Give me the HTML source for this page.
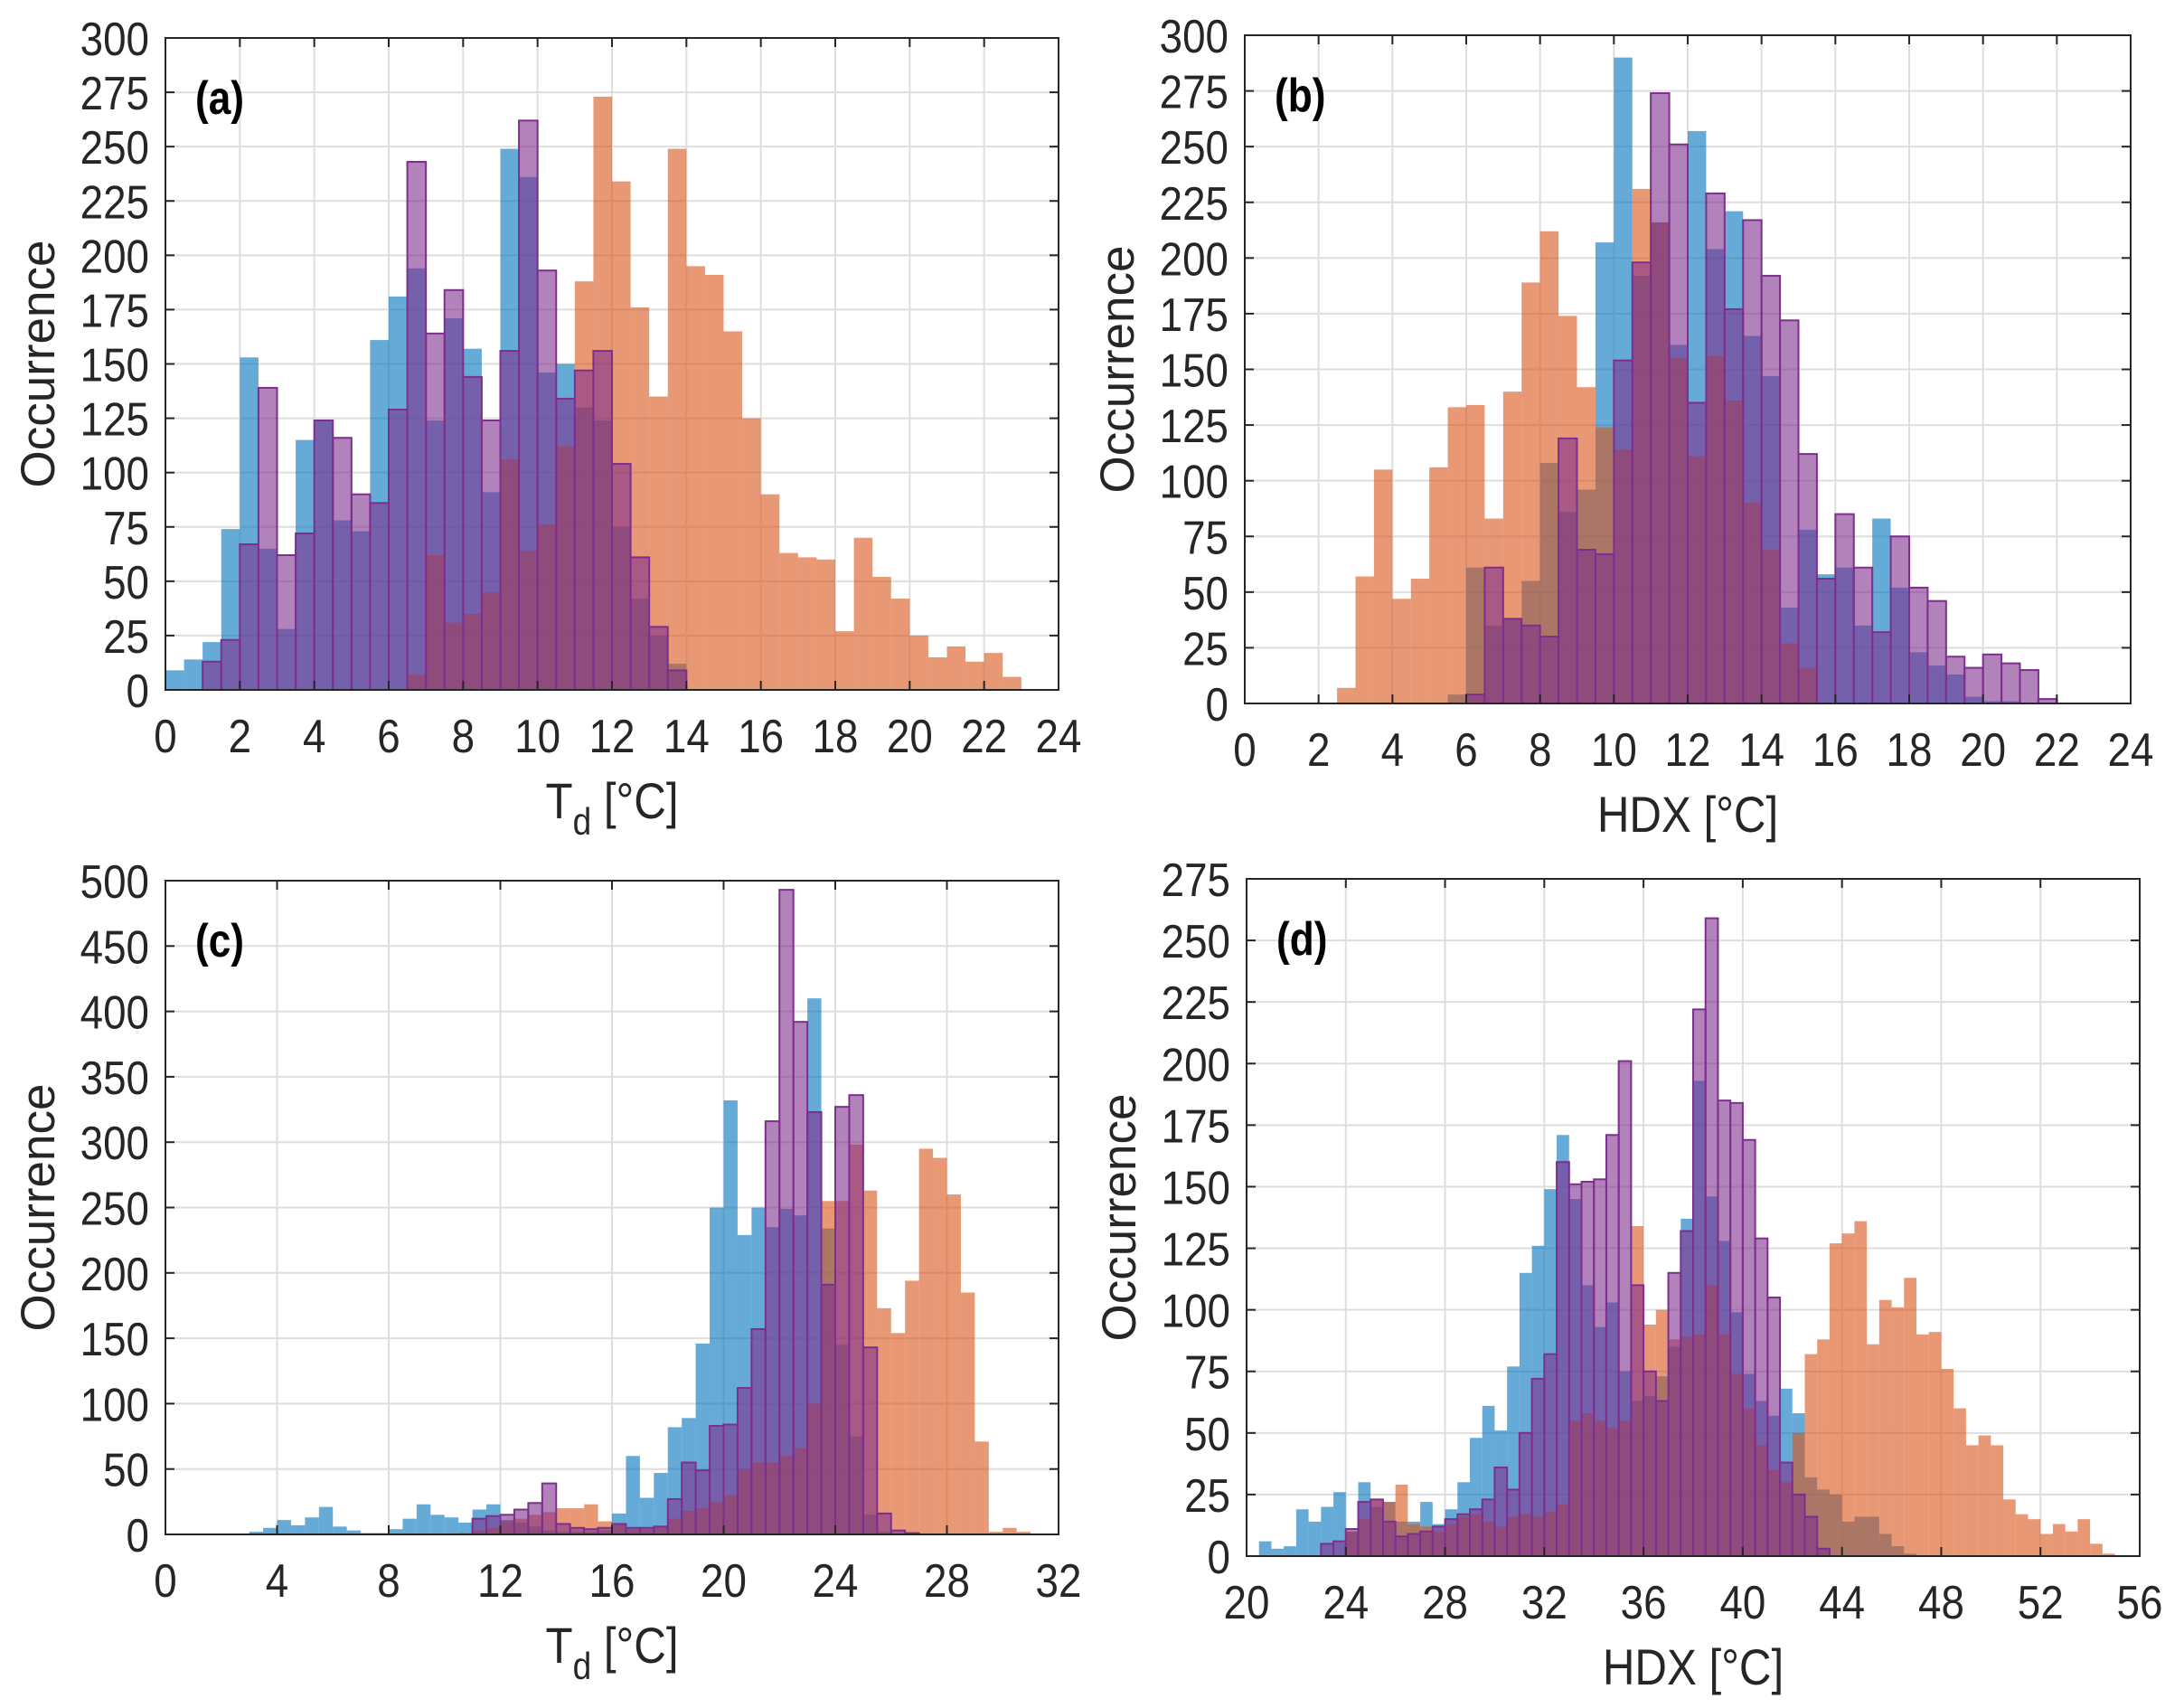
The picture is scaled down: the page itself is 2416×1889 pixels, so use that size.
<!DOCTYPE html>
<html><head><meta charset="utf-8"><style>
html,body{margin:0;padding:0;background:#fff;}
svg{display:block;font-family:"Liberation Sans",Arial,sans-serif;}
</style></head><body>
<svg id="fig" width="2416" height="1889" viewBox="0 0 2416 1889" xmlns="http://www.w3.org/2000/svg"></svg>
<script>
// ---- Panel (a): Td, bin 0.5 ----
const aBlueStart = 0;
const aBlue = [9,14,22,74,153,65,28,115,124,78,73,161,181,194,124,171,157,91,249,236,146,150,130,124,75,42,25,12];
const aOrangeStart = 6.5;
const aOrange = [7,62,31,35,45,106,64,76,112,188,273,234,176,135,249,195,191,165,125,90,63,61,60,27,70,52,42,25,15,20,13,17,6];
const aPurpleStart = 1;
const aPurple = [13,23,67,139,62,72,124,116,90,86,129,243,164,184,144,124,156,262,193,134,147,156,104,61,29,9];
const aXTicks = [0,2,4,6,8,10,12,14,16,18,20,22,24];
const aYTicks = [0,25,50,75,100,125,150,175,200,225,250,275,300];
// ---- Panel (b): HDX ----
const bOrangeStart = 2.5;
const bOrange = [7,57,105,47,56,106,133,134,83,140,189,212,174,142,124,114,231,216,155,111,156,136,90,69,27,16];
const bBlueStart = 5.5;
const bBlue = [4,61,35,38,55,108,86,96,207,290,192,216,161,257,204,221,165,147,43,78,58,61,35,83,52,23,17,13,3,1,1];
const bPurpleStart = 6;
const bPurple = [4,61,38,35,30,119,69,67,154,198,274,251,135,229,177,217,192,172,112,56,85,61,32,75,52,46,21,16,22,18,15,2];
const bXTicks = [0,2,4,6,8,10,12,14,16,18,20,22,24];
const bYTicks = [0,25,50,75,100,125,150,175,200,225,250,275,300];
// ---- Panel (c): Td ----
const cBlueStart = 3;
const cBlue = [2,5,11,7,13,21,6,3,1,1,4,12,23,15,13,9,19,23,11,9,6,3,2,2,2,3,16,60,28,47,82,89,146,250,332,229,250,235,249,244,410,234,145,75,15,2];
const cOrangeStart = 10.5;
const cOrange = [1,3,5,10,12,15,17,20,20,23,10,8,4,4,6,12,18,20,25,30,50,55,55,60,66,100,255,255,298,263,173,154,194,295,288,260,185,71,2,5,2];
const cPurpleStart = 11;
const cPurple = [12,14,15,19,24,39,8,5,4,5,8,5,5,6,27,55,49,83,84,112,157,316,493,392,323,191,327,336,143,16,3,1];
const cXTicks = [0,4,8,12,16,20,24,28,32];
const cYTicks = [0,50,100,150,200,250,300,350,400,450,500];
// ---- Panel (d): HDX ----
const dBlueStart = 20.5;
const dBlue = [6,3,4,19,14,20,26,10,30,20,22,14,14,22,13,19,30,48,61,51,77,115,126,149,171,145,110,93,103,75,63,65,73,85,137,193,146,128,99,74,63,57,68,58,32,27,25,14,16,16,9,4,1];
const dOrangeStart = 24;
const dOrange = [10,15,23,22,29,13,12,10,13,16,17,14,12,16,17,16,18,21,55,58,55,52,55,134,94,100,88,89,90,110,90,74,60,45,35,30,50,82,88,127,131,136,86,104,101,113,90,91,76,60,45,49,45,23,17,15,9,13,10,15,5,1];
const dPurpleStart = 23;
const dPurple = [5,6,11,22,23,14,8,9,10,12,15,17,19,23,36,27,50,72,82,160,151,152,153,171,201,110,75,63,115,132,222,259,185,184,169,129,105,38,25,16,3];
const dXTicks = [20,24,28,32,36,40,44,48,52,56];
const dYTicks = [0,25,50,75,100,125,150,175,200,225,250,275];

const NS = "http://www.w3.org/2000/svg";
const svg = document.getElementById('fig');
function mk(tag, attrs, parent){
  const e = document.createElementNS(NS, tag);
  for (const k in attrs) e.setAttribute(k, attrs[k]);
  (parent||svg).appendChild(e);
  return e;
}
const BIN = 0.5;
const SX = 0.88;

function panel(id, box, xmin, xmax, ymax, xTicks, yTicks, series, label, xlab, sub){
  const g = mk('g', {});
  
  
  const X = v => box.l + (v - xmin) / (xmax - xmin) * (box.r - box.l);
  const Y = v => box.b - v / ymax * (box.b - box.t);
  xTicks.forEach(t => {
    const ln = mk('line', {x1:X(t), x2:X(t), y1:box.t, y2:box.b, stroke:'#dedede', 'stroke-width':2}, g);
    
    
  });
  yTicks.forEach(t => {
    const ln = mk('line', {x1:box.l, x2:box.r, y1:Y(t), y2:Y(t), stroke:'#dedede', 'stroke-width':2}, g);
    
    
  });
  series.forEach(s => {
    const sg = mk('g', {}, g);
    
    
    s.data.forEach((v, i) => {
      if (v <= 0) return;
      const x0 = s.start + i * BIN;
      const attrs = {x:X(x0), y:Y(v), width:X(x0 + BIN) - X(x0), height:Y(0) - Y(v), fill:s.color, 'fill-opacity':0.6};
      if (s.edge) { attrs.stroke = s.edge; attrs['stroke-width'] = 2; }
      const r = mk('rect', attrs, sg);
      
      
    });
  });
  const bx = mk('rect', {x:box.l, y:box.t, width:box.r-box.l, height:box.b-box.t, fill:'none', stroke:'#262626', 'stroke-width':2}, g);
  
  
  xTicks.forEach(t => {
    mk('line', {x1:X(t), x2:X(t), y1:box.b, y2:box.b-10, stroke:'#262626', 'stroke-width':2}, g);
    mk('line', {x1:X(t), x2:X(t), y1:box.t, y2:box.t+10, stroke:'#262626', 'stroke-width':2}, g);
    const tx = mk('text', {x:0, y:0, 'font-size':52, 'text-anchor':'middle', fill:'#262626', transform:`translate(${X(t)},${box.b + 69}) scale(${SX},1)`}, g);
    tx.textContent = t;
    
    
  });
  yTicks.forEach(t => {
    mk('line', {x1:box.l, x2:box.l+10, y1:Y(t), y2:Y(t), stroke:'#262626', 'stroke-width':2}, g);
    mk('line', {x1:box.r, x2:box.r-10, y1:Y(t), y2:Y(t), stroke:'#262626', 'stroke-width':2}, g);
    const tx = mk('text', {x:0, y:0, 'font-size':52, 'text-anchor':'end', fill:'#262626', transform:`translate(${box.l - 18},${Y(t) + 19}) scale(${SX},1)`}, g);
    tx.textContent = t;
    
    
  });
  const yl = mk('text', {x:0, y:0, 'font-size':53, 'text-anchor':'middle', fill:'#262626', transform:`translate(${box.l-123},${(box.t+box.b)/2}) rotate(-90)`}, g);
  yl.textContent = 'Occurrence';
  
  
  const xl = mk('text', {x:0, y:0, 'font-size':56, 'text-anchor':'middle', fill:'#262626', transform:`translate(${(box.l+box.r)/2},${box.b + 142}) scale(${SX},1)`}, g);
  
  
  if (sub) {
    const t1 = mk('tspan', {}, xl); t1.textContent = 'T';
    const t2 = mk('tspan', {dy:18, 'font-size':42}, xl); t2.textContent = 'd';
    const t3 = mk('tspan', {dy:-18}, xl); t3.textContent = ' [°C]';
  } else {
    xl.textContent = xlab;
  }
  const pl = mk('text', {x:0, y:0, 'font-size':52, 'font-weight':'bold', fill:'#000', transform:`translate(${box.l + 33},${box.t + 84}) scale(0.85,1)`}, g);
  pl.textContent = label;
  
  
}
const BLUE = '#0072BD', ORANGE = '#D95319', PURPLE = '#7E2F8E';
panel('a', {l:183, r:1171, t:42, b:763}, 0, 24, 300, aXTicks, aYTicks, [
  {name:'series-blue', start:aBlueStart, data:aBlue, color:BLUE},
  {name:'series-orange', start:aOrangeStart, data:aOrange, color:ORANGE},
  {name:'series-purple', start:aPurpleStart, data:aPurple, color:PURPLE, edge:PURPLE}
], '(a)', '', true);
panel('b', {l:1377, r:2357, t:39, b:778}, 0, 24, 300, bXTicks, bYTicks, [
  {name:'series-blue', start:bBlueStart, data:bBlue, color:BLUE},
  {name:'series-orange', start:bOrangeStart, data:bOrange, color:ORANGE},
  {name:'series-purple', start:bPurpleStart, data:bPurple, color:PURPLE, edge:PURPLE}
], '(b)', 'HDX [°C]', false);
panel('c', {l:183, r:1171, t:974, b:1697}, 0, 32, 500, cXTicks, cYTicks, [
  {name:'series-blue', start:cBlueStart, data:cBlue, color:BLUE},
  {name:'series-orange', start:cOrangeStart, data:cOrange, color:ORANGE},
  {name:'series-purple', start:cPurpleStart, data:cPurple, color:PURPLE, edge:PURPLE}
], '(c)', '', true);
panel('d', {l:1379, r:2367, t:972, b:1721}, 20, 56, 275, dXTicks, dYTicks, [
  {name:'series-blue', start:dBlueStart, data:dBlue, color:BLUE},
  {name:'series-orange', start:dOrangeStart, data:dOrange, color:ORANGE},
  {name:'series-purple', start:dPurpleStart, data:dPurple, color:PURPLE, edge:PURPLE}
], '(d)', 'HDX [°C]', false);
</script>
</body></html>
